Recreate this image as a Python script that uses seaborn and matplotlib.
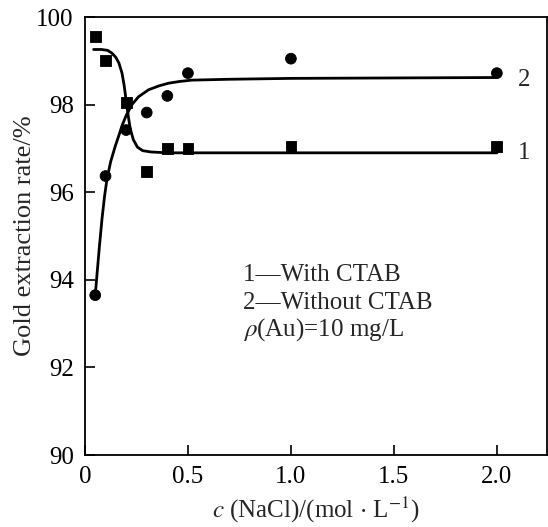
import matplotlib
matplotlib.use("Agg")
import matplotlib.pyplot as plt
import seaborn as sns
import pandas as pd

# measured points
conc = [0.05, 0.1, 0.2, 0.3, 0.4, 0.5, 1.0, 2.0]
with_ctab = [99.55, 99.0, 98.05, 96.47, 97.0, 97.0, 97.05, 97.05]
without_ctab = [93.65, 96.37, 97.42, 97.82, 98.2, 98.72, 99.05, 98.72]

# fitted curves
fit1_x = [0.042, 0.08, 0.11, 0.13, 0.15, 0.165, 0.18, 0.19, 0.2, 0.21, 0.22,
          0.235, 0.255, 0.28, 0.32, 0.4, 1.0, 2.0]
fit1_y = [99.26, 99.26, 99.24, 99.18, 99.08, 98.95, 98.72, 98.45, 98.1, 97.75, 97.45,
          97.2, 97.03, 96.95, 96.92, 96.9, 96.9, 96.9]
fit2_x = [0.05, 0.06, 0.07, 0.083, 0.095, 0.107, 0.125, 0.147, 0.165, 0.18, 0.2,
          0.228, 0.26, 0.309, 0.36, 0.406, 0.46, 0.519, 0.7, 1.0, 2.0]
fit2_y = [93.65, 94.2, 94.75, 95.4, 95.9, 96.3, 96.7, 97.05, 97.3, 97.52, 97.75,
          98.0, 98.18, 98.34, 98.43, 98.49, 98.53, 98.56, 98.58, 98.6, 98.62]

pts = pd.DataFrame({"c": conc * 2,
                    "rate": with_ctab + without_ctab,
                    "series": ["1"] * len(conc) + ["2"] * len(conc)})

sns.set_style("ticks")
plt.rcParams["font.family"] = ["Liberation Serif", "DejaVu Serif"]
plt.rcParams["mathtext.fontset"] = "stix"

fig = plt.figure(figsize=(5.48, 5.27), dpi=100)
ax = fig.add_axes([0.155, 0.1366, 0.843, 0.831])

sns.lineplot(x=fit1_x, y=fit1_y, ax=ax, color="black", lw=2, sort=False)
sns.lineplot(x=fit2_x, y=fit2_y, ax=ax, color="black", lw=2, sort=False)
sns.scatterplot(data=pts, x="c", y="rate", style="series", markers={"1": "s", "2": "o"},
                color="black", s=60, edgecolor="black", legend=False, ax=ax)

ax.set_xlim(0, 2.243)
ax.set_ylim(90, 100)
ax.set_xticks([0, 0.5, 1.0, 1.5, 2.0])
ax.set_xticklabels(["0", "0.5", "1.0", "1.5", "2.0"])
ax.set_yticks([90, 92, 94, 96, 98, 100])
ax.tick_params(direction="in", length=7, width=1.2, labelsize=18, colors="black")
ax.tick_params(axis="y", pad=8)
ax.tick_params(axis="x", pad=8)
for s in ax.spines.values():
    s.set_linewidth(1.3)
    s.set_color("black")

ax.set_xlabel(r"$c$ (NaCl)/(mol $\cdot$ L$^{-1}$)", fontsize=18, labelpad=5)
ax.set_ylabel("Gold extraction rate/%", fontsize=19, labelpad=0)

ax.text(2.10, 98.57, "2", fontsize=18, va="center")
ax.text(2.10, 96.9, "1", fontsize=18, va="center")
ax.text(0.767, 94.1, "1\u2014With CTAB", fontsize=18, va="center")
ax.text(0.767, 93.48, "2\u2014Without CTAB", fontsize=18, va="center")
ax.text(0.767, 92.86, r"$\rho$(Au)=10 mg/L", fontsize=18, va="center")

fig.savefig("out.png", dpi=100)
